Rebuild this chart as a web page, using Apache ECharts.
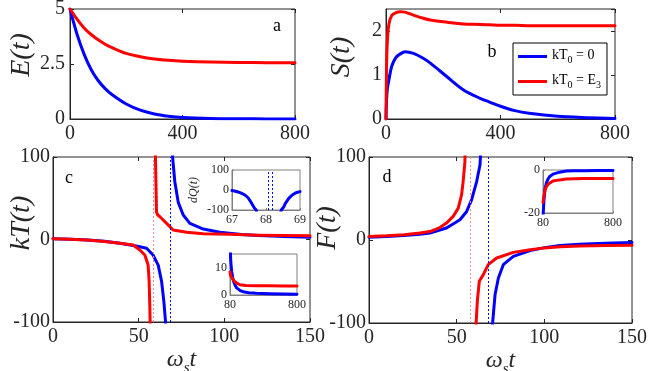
<!DOCTYPE html>
<html><head><meta charset="utf-8">
<script src="https://cdn.jsdelivr.net/npm/echarts@6/dist/echarts.min.js"></script>
<style>html,body{margin:0;padding:0;background:#fff}#c{width:654px;height:371px}</style>
</head><body><div id="c"></div>
<script>
// ---- Panel a: E(t)
const tE = [0,25,50,75,100,125,150,200,250,300,350,400,500,600,700,800];
const eBlue = [5,3.85,2.95,2.25,1.75,1.38,1.1,0.68,0.4,0.23,0.13,0.07,0.025,0.01,0.005,0.002];
const eRed = [5,4.54,4.14,3.84,3.6,3.4,3.24,2.98,2.83,2.73,2.67,2.63,2.59,2.57,2.56,2.56];
// ---- Panel b: S(t)
const tS = [0,2,5,10,20,35,50,67,96,130,155,213,271,329,364,400,450,500,600,700,800];
const sBlue = [0,0.45,0.7,0.88,1.2,1.4,1.48,1.53,1.49,1.38,1.27,0.96,0.66,0.47,0.38,0.29,0.19,0.13,0.06,0.03,0.01];
const sRed = [0,1.2,1.8,2.15,2.35,2.42,2.44,2.43,2.36,2.29,2.25,2.2,2.16,2.15,2.14,2.13,2.13,2.12,2.12,2.12,2.12];
// ---- Panel c: kT(t), two branches per curve
const tKtBlueL = [0,10,20,30,39,46,50,54.6,58.4,61.4,63.4,64.7,65.7,66.2];
const ktBlueL = [1,0.4,-0.6,-2.2,-4.5,-7,-8.5,-10.7,-18.8,-31,-51,-75,-100,-130];
const tKtBlueR = [69.6,69.8,71.1,73.1,76,79.9,87.7,97.4,103,110,120,135,150];
const ktBlueR = [130,100,70,45,29.7,19.6,12.7,8.7,7.5,6.2,4.9,3.6,2.8];
const tKtRedL = [0,10,20,30,39,46.8,50.7,53.6,55.5,56.1,56.5,56.8];
const ktRedL = [1,0.4,-0.6,-2.3,-4.6,-6.7,-12.7,-18.8,-31,-50,-80,-110];
const tKtRedR = [59.6,59.8,60.4,61,62.4,66.3,70.1,78,87.7,103,120,135,150];
const ktRedR = [130,100,33.7,30,27.6,19.6,11.5,8.7,7,6.3,5.3,4.8,4.4];
const asymRed = 58.4, asymBlue = 68.2;
// ---- Panel d: F(t)
const tFBlueL = [0,10,20,29,34.7,44.2,51.9,55.7,58.5,61.4,63.3,64.4];
const fBlueL = [3.4,4.3,5.5,7,8.4,14.4,24.4,34.4,48.4,70.4,90.4,130];
const tFBlueR = [70.3,70.5,71.9,73.8,76.6,82.3,91.9,101,109,120,135,150];
const fBlueR = [-130,-100,-65.7,-45.7,-29.7,-19.7,-12.8,-8.9,-6.5,-5,-3.8,-3];
const tFRedL = [0,10,20,29,34.7,40.4,44.2,48,50.9,52.8,53.7,54.7,55.1];
const fRedL = [4.2,5,6.4,8.5,10.2,15,20.4,28.4,38.4,54.4,70.4,94,130];
const tFRedR = [60.9,61.1,61.8,62.9,65.2,68,72.8,82.3,91.9,100,109,120,135,150];
const fRedR = [-130,-100,-73.7,-49.7,-41.7,-29.7,-21.7,-14.9,-11.7,-9.5,-8,-7.2,-6.6,-6.2];
const asymRedF = 57.8, asymBlueF = 68.0;
// ---- Inset c1: dQ(t)
const tDqL = [67,67.1,67.2,67.3,67.38,67.48,67.58,67.65,67.71,67.74];
const dqL = [-3,-6,-11,-18,-25,-40,-67,-88,-100,-120];
const tDqR = [68.42,68.45,68.52,68.57,68.67,68.77,68.88,69];
const dqR = [-120,-100,-85,-67,-42,-25,-14,-8];
const dqAsym = [68.07,68.17];
// ---- Inset c2: kT(t) long time
const tC2Blue = [80,87.7,97.4,110,120,135,152,190,223,280,366,500,650,800];
const c2Blue = [19.6,12.7,8.7,6.2,4.9,3.6,2.6,1.6,1.2,0.8,0.6,0.45,0.35,0.3];
const tC2Red = [80,88,103,120,134,150,187,250,366,500,650,800];
const c2Red = [8.4,7,6.3,5.3,5,4.4,3.75,3.5,3.4,3.35,3.3,3.3];
// ---- Inset d1: F(t) long time
const tD1Blue = [80,90,100,115,131,150,183,250,320,400,500,650,800];
const d1Blue = [-22,-14,-9,-6,-4.2,-3,-1.9,-1.0,-0.5,-0.35,-0.3,-0.25,-0.2];
const tD1Red = [80,90,100,114,135,150,183,250,320,400,500,650,800];
const d1Red = [-15,-12,-9.5,-7.8,-6.5,-6,-5.1,-4.6,-4.2,-4.1,-4.0,-4.0,-4.0];
// ---- Texts
const yTitles = [['E(t)',22,55],['S(t)',342,57],['kT(t)',22,223],['F(t)',328,228]];
const panelLetters = [['a',277,26],['b',492,52],['c',69,178],['d',387,177]];

const BLUE = '#0000ff', RED = '#ff0000', INK = '#262626';
const NAME_B = 'kT0 = 0', NAME_R = 'kT0 = E3';
const SERIF = 'Liberation Serif';
const pairs = (xs, ys) => xs.map((x, i) => [x, ys[i]]);

const grids = [
  {left:70, top:9, width:225, height:110},
  {left:386, top:9, width:229, height:110},
  {left:53, top:157, width:257, height:165},
  {left:369, top:157, width:263, height:166},
  {left:232, top:170, width:68, height:40},
  {left:230, top:254, width:67, height:41},
  {left:543, top:170, width:70, height:43}
].map((g, i) => Object.assign({show:true, backgroundColor:'#fff', borderColor: i < 4 ? INK : '#808080',
  borderWidth:1, containLabel:false, outerBoundsMode:'none'}, g));

const xAxes = [], yAxes = [];
function axes(gi, xc, yc, main) {
  const fs = main ? 20 : 12;
  const col = main ? INK : '#808080';
  const base = {
    gridIndex: gi, type:'value', splitLine:{show:false},
    axisLine:{show:true, onZero:false, lineStyle:{color:col, width:1}},
    axisTick:{show:true, inside:true, length: main ? 4 : 2, lineStyle:{color:col}},
    axisLabel:{fontFamily:SERIF, fontSize:fs, color:INK}
  };
  const xi = xAxes.length, yi = yAxes.length;
  const xa = Object.assign({}, base, {position:'bottom'}, xc);
  xa.axisLabel = Object.assign({}, base.axisLabel, xc.axisLabel || {});
  xa.axisTick = Object.assign({}, base.axisTick, xc.axisTick || {});
  const ya = Object.assign({}, base, {position:'left'}, yc);
  ya.axisLabel = Object.assign({}, base.axisLabel, yc.axisLabel || {});
  ya.axisTick = Object.assign({}, base.axisTick, yc.axisTick || {});
  xAxes.push(xa); yAxes.push(ya);
  if (main) {
    xAxes.push({gridIndex:gi, type:'value', position:'top', min:xc.min, max:xc.max, interval:xc.interval,
      splitLine:{show:false}, axisLine:{show:false, onZero:false}, axisLabel:{show:false},
      axisTick:{show:true, inside:true, length:4, lineStyle:{color:col}}});
    yAxes.push({gridIndex:gi, type:'value', position:'right', min:yc.min, max:yc.max, interval:yc.interval,
      splitLine:{show:false}, axisLine:{show:false, onZero:false}, axisLabel:{show:false},
      axisTick:{show:true, inside:true, length:4, lineStyle:{color:col}}});
  }
  return [xi, yi];
}
const wsName = {name:'{w|ω}{s|s}{w|t}', nameLocation:'middle', nameGap:12,
  nameTextStyle:{rich:{
    w:{fontFamily:SERIF, fontStyle:'italic', fontSize:24, color:INK, verticalAlign:'bottom', padding:[0,0,4,0]},
    s:{fontFamily:SERIF, fontStyle:'italic', fontSize:15, color:INK, verticalAlign:'bottom'}}}};

const A = axes(0, {min:0, max:800, interval:400, axisLabel:{margin:5}},
  {min:0, max:5, interval:2.5, axisLabel:{margin:5}}, true);
const B = axes(1, {min:0, max:800, interval:400, axisLabel:{margin:5}},
  {min:0, max:2.5, interval:1, axisLabel:{margin:4, showMaxLabel:false}}, true);
const C = axes(2, Object.assign({min:0, max:150, interval:50, axisLabel:{margin:5}}, wsName),
  {min:-100, max:100, interval:100, axisLabel:{margin:3}}, true);
const D = axes(3, Object.assign({min:0, max:150, interval:50, axisLabel:{margin:5}}, wsName),
  {min:-100, max:100, interval:100, axisLabel:{margin:3}}, true);
const C1 = axes(4, {min:67, max:69, interval:1, axisLabel:{margin:4}},
  {min:-100, max:100, interval:100, axisLabel:{margin:3}, name:'dQ(t)', nameLocation:'middle', nameGap:32,
   nameTextStyle:{fontFamily:SERIF, fontStyle:'italic', fontSize:12, color:INK}}, false);
const C2 = axes(5, {min:80, max:800, axisLabel:{margin:4, customValues:[80,800]}, axisTick:{customValues:[80,800]}},
  {min:0, max:15, interval:10, axisLabel:{margin:3, showMaxLabel:false}}, false);
const D1 = axes(6, {min:80, max:800, axisLabel:{margin:4, customValues:[80,800]}, axisTick:{customValues:[80,800]}},
  {min:-20, max:0, interval:20, axisLabel:{margin:3}}, false);

function ser(ax, name, color, xs, ys, smooth, extra) {
  return Object.assign({type:'line', name, xAxisIndex:ax[0], yAxisIndex:ax[1], data:pairs(xs, ys),
    symbol:'none', showSymbol:false, clip:true, animation:false, smooth:smooth,
    lineStyle:{color, width:3, join:'round', cap:'round'}, itemStyle:{color}}, extra || {});
}
function vlines(vals, color) {
  return {silent:true, symbol:'none', animation:false, label:{show:false},
    lineStyle:{color, type:[2,2], width:1}, data: vals.map(v => ({xAxis:v}))};
}
const SM = 0.3;
const series = [
  ser(A, NAME_B, BLUE, tE, eBlue, SM), ser(A, NAME_R, RED, tE, eRed, SM),
  ser(B, NAME_B, BLUE, tS, sBlue, SM), ser(B, NAME_R, RED, tS, sRed, SM),
  ser(C, NAME_B, BLUE, tKtBlueL, ktBlueL, false, {markLine: vlines([asymBlue], BLUE)}),
  ser(C, NAME_B, BLUE, tKtBlueR, ktBlueR, false),
  ser(C, NAME_R, RED, tKtRedL, ktRedL, false, {markLine: vlines([asymRed], '#ff8888')}),
  ser(C, NAME_R, RED, tKtRedR, ktRedR, false),
  ser(D, NAME_B, BLUE, tFBlueL, fBlueL, false, {markLine: vlines([asymBlueF], BLUE)}),
  ser(D, NAME_B, BLUE, tFBlueR, fBlueR, false),
  ser(D, NAME_R, RED, tFRedL, fRedL, false, {markLine: vlines([asymRedF], '#ff8888')}),
  ser(D, NAME_R, RED, tFRedR, fRedR, false),
  ser(C1, NAME_B, BLUE, tDqL, dqL, false, {markLine: vlines(dqAsym, BLUE)}),
  ser(C1, NAME_B, BLUE, tDqR, dqR, false),
  ser(C2, NAME_B, BLUE, tC2Blue, c2Blue, false), ser(C2, NAME_R, RED, tC2Red, c2Red, false),
  ser(D1, NAME_B, BLUE, tD1Blue, d1Blue, false), ser(D1, NAME_R, RED, tD1Red, d1Red, false)
];

const graphics = panelLetters.map(([t,x,y]) => ({type:'text', x, y, z:100, silent:true,
    style:{text:t, fontFamily:SERIF, fontSize:18, fill:'#000', align:'center', verticalAlign:'middle'}}))
  .concat(yTitles.map(([t,x,y]) => ({type:'text', x, y, rotation:Math.PI/2, z:100, silent:true,
    style:{text:t, fontFamily:SERIF, fontStyle:'italic', fontSize:28, fill:INK, align:'center', verticalAlign:'middle'}})));

const option = {
  animation:false,
  backgroundColor:'#fff',
  grid: grids, xAxis: xAxes, yAxis: yAxes, series,
  legend: {
    data:[NAME_B, NAME_R], orient:'vertical', left:513, top:43,
    backgroundColor:'#fff', borderColor:'#000', borderWidth:1, padding:[5,6,5,5],
    itemGap:8, itemWidth:29, itemHeight:3, icon:'rect', selectedMode:false,
    formatter: n => n === NAME_B ? '{n|kT}{s|0}{n| = 0}' : '{n|kT}{s|0}{n| = E}{s|3}',
    textStyle:{rich:{
      n:{fontFamily:SERIF, fontSize:14, color:'#000', verticalAlign:'bottom', padding:[0,0,3,0]},
      s:{fontFamily:SERIF, fontSize:10, color:'#000', verticalAlign:'bottom'}}}
  },
  graphic: graphics
};
const chart = echarts.init(document.getElementById('c'), null, {renderer:'canvas'});
chart.setOption(option);
</script></body></html>
